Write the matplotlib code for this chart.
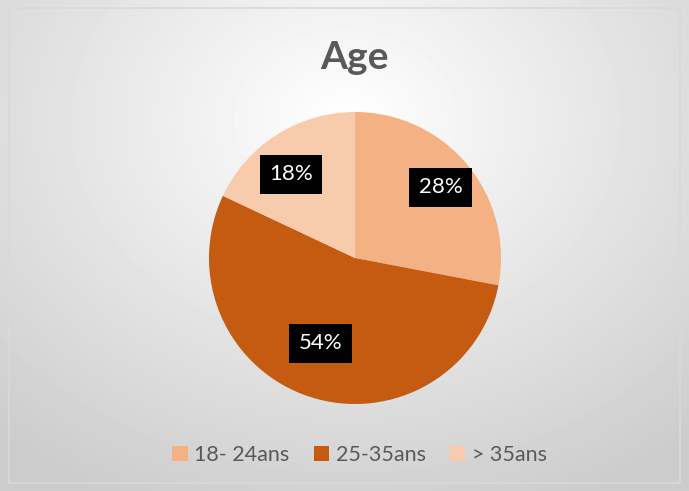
import numpy as np
import matplotlib

matplotlib.use("Agg")
import matplotlib.pyplot as plt
from matplotlib.patches import Rectangle

labels = ["18- 24ans", "25-35ans", "> 35ans"]
values = [28, 54, 18]
colors = ["#F4B183", "#C55A11", "#F8CBAD"]
label_dist = [0.76, 0.63, 0.72]
label_shift = [0, -4, 5]  # degrees, nudges like Excel's best-fit placement

plt.rcParams["font.family"] = ["Lato", "DejaVu Sans"]

fig = plt.figure(figsize=(6.89, 4.91), dpi=100)

# background gradient
bg = fig.add_axes([0, 0, 1, 1])
yy, xx = np.mgrid[0:491, 0:689]
r = np.sqrt(((xx - 345) / 520.0) ** 2 + ((yy - 120) / 420.0) ** 2)
shade = np.clip(1.0 - 0.2 * r, 0.8, 1.0)
bg.imshow(shade, cmap="gray", vmin=0, vmax=1, extent=[0, 689, 491, 0], aspect="auto")
bg.add_patch(Rectangle((9, 8), 671, 475, fill=False, ec="#D9D9D9", lw=1.2))
bg.set_xlim(0, 689)
bg.set_ylim(491, 0)
bg.axis("off")

fig.text(0.515, 0.882, "Age", ha="center", va="center", fontsize=28,
         fontweight="bold", color="#595959")

ax = fig.add_axes([(355 - 146) / 689, 1 - (258 + 146) / 491, 292 / 689, 292 / 491])
wedges, _ = ax.pie(values, colors=colors, startangle=90, counterclock=False,
                   wedgeprops=dict(lw=0))
for w, v, d, s in zip(wedges, values, label_dist, label_shift):
    ang = np.deg2rad((w.theta1 + w.theta2) / 2 + s)
    ax.text(d * np.cos(ang), d * np.sin(ang), f"{v}%", ha="center", va="center",
            color="white", fontsize=16,
            bbox=dict(facecolor="black", edgecolor="none", boxstyle="square,pad=0.42"))
ax.set_xlim(-1, 1)
ax.set_ylim(-1, 1)
ax.set_aspect("equal")

fig.legend(wedges, labels, loc="center", bbox_to_anchor=(0.522, 0.073), ncol=3,
           frameon=False, fontsize=15.5, labelcolor="#595959", handlelength=0.7,
           handleheight=0.7, handletextpad=0.3, columnspacing=1.15)

fig.savefig("out.png", dpi=100)
